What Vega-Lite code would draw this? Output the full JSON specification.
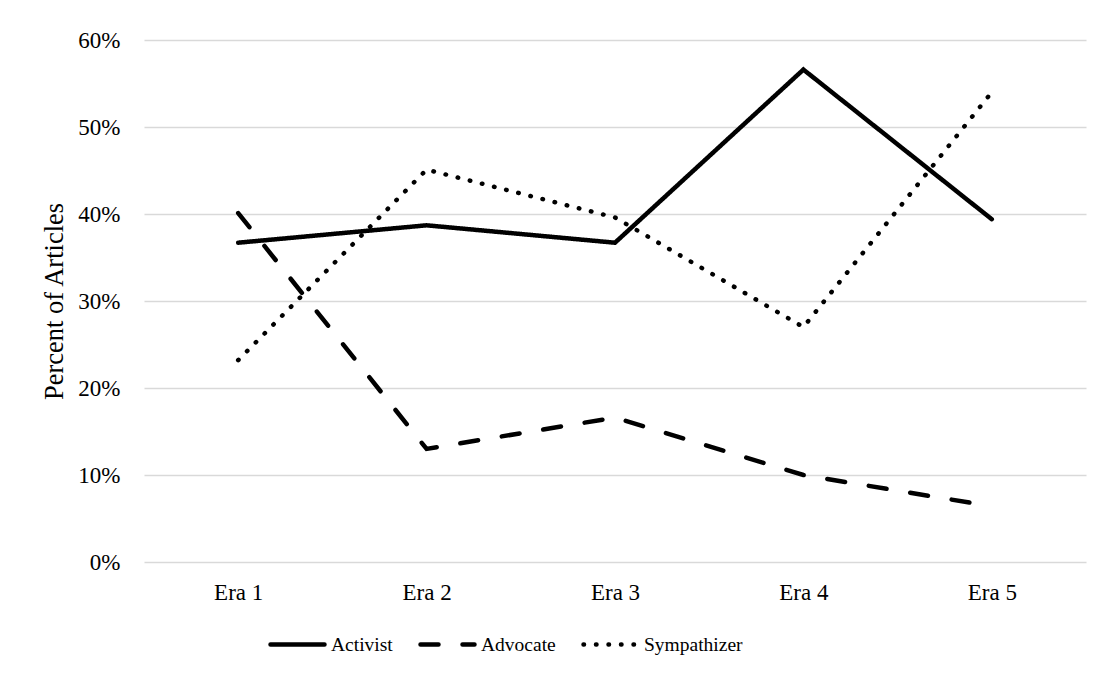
{
  "$schema": "https://vega.github.io/schema/vega-lite/v6.json",
  "autosize": {"type": "none"},
  "padding": {"left": 144, "top": 40, "right": 19, "bottom": 113},
  "width": 942,
  "height": 522,
  "background": "white",
  "data": {
    "values": [
      {"era": "Era 1", "role": "Activist", "pct": 0.367},
      {"era": "Era 2", "role": "Activist", "pct": 0.387},
      {"era": "Era 3", "role": "Activist", "pct": 0.367},
      {"era": "Era 4", "role": "Activist", "pct": 0.566},
      {"era": "Era 5", "role": "Activist", "pct": 0.394},
      {"era": "Era 1", "role": "Advocate", "pct": 0.401},
      {"era": "Era 2", "role": "Advocate", "pct": 0.130},
      {"era": "Era 3", "role": "Advocate", "pct": 0.166},
      {"era": "Era 4", "role": "Advocate", "pct": 0.100},
      {"era": "Era 5", "role": "Advocate", "pct": 0.064},
      {"era": "Era 1", "role": "Sympathizer", "pct": 0.232},
      {"era": "Era 2", "role": "Sympathizer", "pct": 0.451},
      {"era": "Era 3", "role": "Sympathizer", "pct": 0.396},
      {"era": "Era 4", "role": "Sympathizer", "pct": 0.270},
      {"era": "Era 5", "role": "Sympathizer", "pct": 0.540}
    ]
  },
  "mark": {"type": "line", "color": "black", "strokeWidth": 4.5, "strokeCap": "round", "strokeJoin": "miter"},
  "encoding": {
    "x": {
      "field": "era",
      "type": "ordinal",
      "scale": {"type": "point", "padding": 0.5},
      "axis": {
        "title": null,
        "labelAngle": 0,
        "ticks": false,
        "tickSize": 0,
        "domain": false,
        "grid": false,
        "labelPadding": 19,
        "labelFontSize": 23
      }
    },
    "y": {
      "field": "pct",
      "type": "quantitative",
      "scale": {"domain": [0, 0.6], "nice": false, "zero": true},
      "axis": {
        "title": "Percent of Articles",
        "format": ".0%",
        "values": [0, 0.1, 0.2, 0.3, 0.4, 0.5, 0.6],
        "ticks": false,
        "tickSize": 0,
        "domain": false,
        "labelPadding": 24,
        "labelFontSize": 23,
        "titleFontSize": 26.5,
        "titleFontWeight": "normal",
        "titlePadding": 9,
        "gridColor": "#d9d9d9",
        "gridWidth": 1.3
      }
    },
    "strokeDash": {
      "field": "role",
      "type": "nominal",
      "scale": {
        "domain": ["Activist", "Advocate", "Sympathizer"],
        "range": [[1, 0], [18, 24], [0.5, 12]]
      },
      "legend": {
        "title": null,
        "orient": "none",
        "direction": "horizontal",
        "legendX": 124,
        "legendY": 575,
        "symbolType": "stroke",
        "symbolSize": 2916,
        "symbolStrokeWidth": 4.5,
        "symbolStrokeColor": "black",
        "labelFontSize": 19.5,
        "labelOffset": 4,
        "columnPadding": 18,
        "encode": {
          "symbols": {"update": {"strokeCap": {"value": "round"}}}
        }
      }
    }
  },
  "config": {
    "font": "Liberation Serif",
    "view": {"stroke": null},
    "axis": {"labelColor": "black", "titleColor": "black", "labelFont": "Liberation Serif", "titleFont": "Liberation Serif"},
    "legend": {"labelColor": "black", "labelFont": "Liberation Serif"}
  }
}
